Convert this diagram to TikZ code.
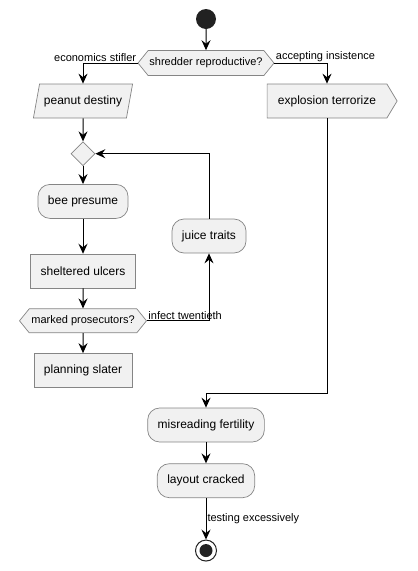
\documentclass[tikz,border=0pt]{standalone}
\usepackage{fontspec}
\setmainfont{Liberation Sans}
\usetikzlibrary{arrows.meta,positioning,shapes.geometric,shapes.symbols}
\definecolor{actfill}{HTML}{F1F1F1}
\definecolor{actline}{HTML}{858585}
\definecolor{dotfill}{HTML}{222222}
\newcommand{\actfont}{\fontsize{12}{14}\selectfont}
\newcommand{\lblfont}{\fontsize{11}{13}\selectfont}
\tikzset{
  >={Stealth[length=10pt,width=9pt,inset=3.5pt]},
  act/.style    ={draw=actline, line width=0.7pt, fill=actfill, rounded corners=12pt, minimum height=34pt, inner xsep=10pt, font=\actfont},
  plain/.style  ={draw=actline, line width=0.7pt, fill=actfill, minimum height=34pt, inner xsep=10pt, font=\actfont},
  inbox/.style  ={draw=actline, line width=0.7pt, fill=actfill, trapezium, trapezium left angle=72, trapezium right angle=108, trapezium stretches=true, minimum height=34pt, minimum width=100pt, inner xsep=2pt, font=\actfont},
  sendbox/.style={draw=actline, line width=0.7pt, fill=actfill, signal, signal to=east, signal pointer angle=118, minimum height=34pt, minimum width=130pt, font=\actfont},
  choice/.style ={draw=actline, line width=0.7pt, fill=actfill, signal, signal to=east and west, signal pointer angle=102, inner xsep=1pt, font=\lblfont},
  merge/.style  ={draw=actline, line width=0.7pt, fill=actfill, diamond, minimum size=24pt, inner sep=0pt},
  arr/.style    ={->, line width=1pt},
  lbl/.style    ={font=\lblfont, inner sep=1pt},
}

\begin{document}
\begin{tikzpicture}[x=1pt, y=1pt]
  \useasboundingbox (0,0) rectangle (418,-571);

  \node[circle, fill=dotfill, minimum size=20pt, inner sep=0pt] (start) at (206,-19) {};
  \node[choice, minimum height=25pt, minimum width=136pt, below=21pt of start] (shred) {shredder reproductive?};

  % left branch
  \node[inbox] (peanut) at (83,-101) {peanut destiny};
  \node[merge, below=23pt of peanut] (join) {};
  \node[act, below=18pt of join] (bee) {bee presume};
  \node[plain, below=35pt of bee] (ulcers) {sheltered ulcers};
  \node[choice, minimum height=24pt, minimum width=127pt, below=20pt of ulcers] (marked) {marked prosecutors?};
  \node[plain, below=20pt of marked] (slater) {planning slater};
  \node[act] (juice) at (209,-236) {juice traits};

  % right branch
  \node[sendbox] (explo) at (327,-101) {explosion terrorize};
  \node[act] (misread) at (206,-425) {misreading fertility};
  \node[act, below=21pt of misread] (layout) {layout cracked};
  \node[circle, draw=dotfill, line width=1pt, minimum size=21pt, inner sep=0pt, below=41.5pt of layout] (stop) {};
  \node[circle, fill=dotfill, minimum size=13pt, inner sep=0pt] (stopdot) at (stop) {};

  \draw[arr] (start) -- (shred);
  \draw[arr] (shred.west) node[lbl, anchor=south east]{economics stifler} -| (peanut.north);
  \draw[arr] (shred.east) node[lbl, anchor=south west]{accepting insistence} -| (explo.north);
  \draw[arr] (peanut) -- (join);
  \draw[arr] (join) -- (bee);
  \draw[arr] (bee) -- (ulcers);
  \draw[arr] (ulcers) -- (marked);
  \draw[arr] (marked) -- (slater);
  \draw[arr] (marked.east) node[lbl, anchor=south west]{infect twentieth} -| (juice.south);
  \draw[arr] (juice.north) |- (join.east);
  \draw[arr] (explo.south) -- ++(0,-275) -| (misread.north);
  \draw[arr] (misread) -- (layout);
  \draw[arr] (layout) -- node[lbl, right]{testing excessively} (stop);
\end{tikzpicture}
\end{document}
